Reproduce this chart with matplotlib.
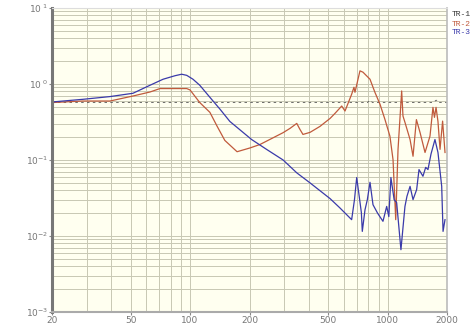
import matplotlib
matplotlib.use('Agg')
import matplotlib.pyplot as plt
import numpy as np

# TR-1 : flat reference trace
tr1_f = [20, 60, 150, 300, 700, 790, 815, 840, 1200, 1700, 1760, 1790, 1820, 2000]
tr1_v = [0.57, 0.57, 0.57, 0.57, 0.57, 0.57, 0.61, 0.57, 0.57, 0.57, 0.61, 0.61, 0.57, 0.57]

# TR-2 : red trace
tr2_f = [20, 28.7, 39.3, 51.4, 62.7, 70.4, 76, 96.2, 100, 112, 126, 137, 150, 173,
         201, 226, 296, 321, 347, 360, 373, 405, 455, 512, 542, 586, 609, 658, 676,
         684, 725, 751, 815, 863, 916, 970, 1028, 1066, 1100, 1130, 1179, 1197, 1225,
         1300, 1346, 1400, 1460, 1548, 1640, 1698, 1728, 1760, 1800, 1844, 1900, 1954]
tr2_v = [0.57, 0.597, 0.597, 0.695, 0.785, 0.871, 0.871, 0.871, 0.835, 0.57, 0.424,
         0.279, 0.181, 0.1285, 0.144, 0.16, 0.229, 0.261, 0.303, 0.253, 0.217, 0.231,
         0.277, 0.353, 0.411, 0.513, 0.441, 0.733, 0.906, 0.778, 1.49, 1.43, 1.155,
         0.778, 0.541, 0.342, 0.206, 0.101, 0.0164, 0.138, 0.81, 0.379, 0.313, 0.186,
         0.112, 0.34, 0.231, 0.1256, 0.206, 0.493, 0.364, 0.493, 0.322, 0.138, 0.325,
         0.1256]

# TR-3 : blue trace
tr3_f = [20, 28.7, 39.3, 51.4, 62.7, 73, 83.9, 90.7, 96.2, 103.5, 112, 126, 142, 159,
         205, 244, 296, 347, 405, 512, 574, 658, 680, 698, 737, 745, 769, 790, 815,
         844, 890, 948, 990, 1015, 1040, 1080, 1112, 1169, 1225, 1254, 1300, 1346,
         1404, 1443, 1511, 1560, 1602, 1660, 1738, 1800, 1880, 1910, 1954]
tr3_v = [0.58, 0.629, 0.683, 0.755, 0.963, 1.155, 1.285, 1.345, 1.30, 1.155, 0.963,
         0.669, 0.464, 0.322, 0.186, 0.138, 0.1, 0.0678, 0.05, 0.031, 0.0234, 0.0164,
         0.03, 0.0588, 0.0203, 0.0115, 0.0222, 0.03, 0.0509, 0.0258, 0.02, 0.0156,
         0.0245, 0.018, 0.0588, 0.03, 0.0275, 0.0066, 0.0245, 0.0333, 0.045, 0.0301,
         0.0408, 0.0748, 0.0611, 0.08, 0.0748, 0.12, 0.186, 0.1256, 0.0451, 0.0115,
         0.0164]

x_ticks = [20, 50, 100, 200, 500, 1000, 2000]
y_ticks = [1e-3, 1e-2, 1e-1, 1e0, 1e1]
y_labels = ['$10^{-3}$', '$10^{-2}$', '$10^{-1}$', '$10^{\\ 0}$', '$10^{\\ 1}$']

fig = plt.figure(figsize=(4.75, 3.26), dpi=100)
ax = fig.add_axes([52 / 475, 14 / 326, 395 / 475, 304 / 326])
ax.set_facecolor('#fffff0')

ax.plot(tr1_f, tr1_v, color='#555555', lw=0.6, linestyle=(0, (3, 4)))
ax.plot(tr2_f, tr2_v, color='#c05a3c', lw=0.9)
ax.plot(tr3_f, tr3_v, color='#3a3aaa', lw=0.9)

ax.set_xscale('log')
ax.set_yscale('log')
ax.set_xlim(20, 2000)
ax.set_ylim(1e-3, 10)

ax.set_xticks(x_ticks)
ax.set_xticklabels([str(t) for t in x_ticks])
ax.set_yticks(y_ticks)
ax.set_yticklabels(y_labels)
ax.minorticks_on()
ax.tick_params(which='minor', length=0)
ax.tick_params(which='major', length=2, width=0.8, color='#888888',
               labelsize=6.5, labelcolor='#777777', pad=1)

ax.grid(True, which='both', color='#c8c8b4', lw=0.7)
ax.set_axisbelow(True)

ax.spines['left'].set_color('#777777')
ax.spines['left'].set_linewidth(2.2)
ax.spines['bottom'].set_color('#aaaaaa')
ax.spines['bottom'].set_linewidth(1.5)
ax.spines['right'].set_color('#bbbbbb')
ax.spines['right'].set_linewidth(1.2)
ax.spines['top'].set_color('#dddddd')
ax.spines['top'].set_linewidth(0.8)

# trace names to the right of the plot
names = ['TR-1', 'TR-2', 'TR-3']
colors = ['#333333', '#c05a3c', '#3a3aaa']
for i, (n, c) in enumerate(zip(names, colors)):
    fig.text(452 / 475, 1 - (15 + 9 * i) / 326, n, color=c, fontsize=5.8,
             family='Liberation Mono', va='center', ha='left')

fig.savefig('out.png', dpi=100)
